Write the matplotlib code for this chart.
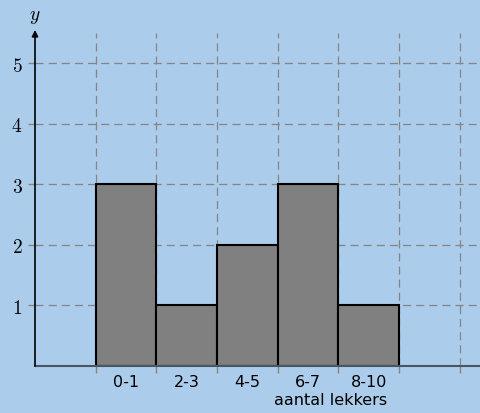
import matplotlib
matplotlib.use("Agg")
import matplotlib.pyplot as plt

categories = ["0-1", "2-3", "4-5", "6-7", "8-10"]
counts = [3, 1, 2, 3, 1]
y_ticks = [1, 2, 3, 4, 5]
x_label = "aantal lekkers"
y_label = "y"

plt.rcParams['mathtext.fontset'] = 'cm'
bg = "#abcdeb"
W, H = 481, 414
fig = plt.figure(figsize=(W/100, H/100), dpi=100, facecolor=bg)
ax_left = 35 / W
ax_bottom = (H - 367) / H
ax_top = (H - 34) / H
ax = fig.add_axes([ax_left, ax_bottom, 1 - ax_left, ax_top - ax_bottom])
ax.set_facecolor(bg)
unit = 60.67
ax.set_xlim(0, (W - 35) / unit)
ax.set_ylim(0, 5.5)

grid_c = "#858585"
for gx in range(1, 8):
    ax.plot([gx, gx], [0, 5.5], color=grid_c, lw=0.9, ls=(0, (6.5, 4)), zorder=1, clip_on=False)
for gy in y_ticks:
    ax.plot([0, (W - 35) / unit], [gy, gy], color=grid_c, lw=0.9, ls=(0, (6.5, 4)), zorder=1, clip_on=False)

xs = [i + 1 for i in range(len(categories))]
ax.bar(xs, counts, width=1, align="edge", color="#808080", edgecolor="black", lw=1.5, zorder=3)

for sp in ax.spines.values():
    sp.set_visible(False)
ax.axhline(0, color="#4a5562", lw=1.5, zorder=4, clip_on=False)
ax.annotate("", xy=(0, 5.55), xytext=(0, 0), xycoords="data",
            arrowprops=dict(arrowstyle="-|>", color="black", lw=1.2, mutation_scale=9, shrinkA=0, shrinkB=0),
            zorder=5, annotation_clip=False)

ax.set_xticks(range(1, 8))
ax.set_xticklabels([])
ax.tick_params(axis="x", length=5, width=1, color=grid_c, direction="out")
ax.set_yticks(y_ticks)
ax.set_yticklabels([f"${v}$" for v in y_ticks], fontsize=14)
ax.tick_params(axis="y", length=5, width=1, color=grid_c, direction="out", pad=4)

for x, lab in zip(xs, categories):
    ax.text(x + 0.5, -0.25, lab, ha="center", va="center", fontsize=11.5, family="DejaVu Sans")
ax.text(4.87, -0.55, x_label, ha="center", va="center", fontsize=11.5, family="DejaVu Sans")
fig.text(ax_left, (H - 16) / H, f"${y_label}$", ha="center", va="center", fontsize=14)

fig.savefig("out.png", dpi=100, facecolor=bg)
